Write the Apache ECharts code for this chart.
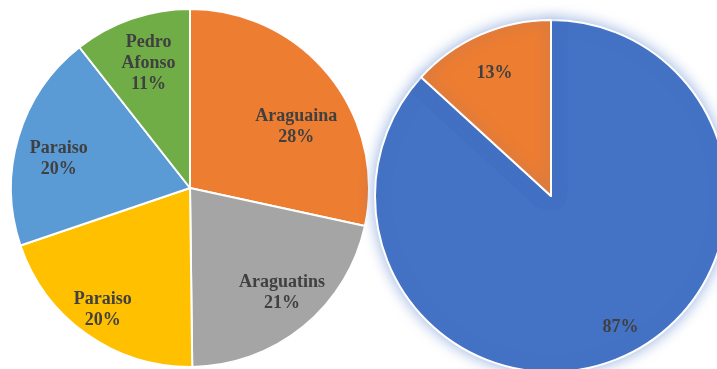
<!DOCTYPE html>
<html><head><meta charset="utf-8">
<script src="https://cdn.jsdelivr.net/npm/echarts@6/dist/echarts.min.js"></script>
<style>html,body{margin:0;padding:0;background:#fff}#c{width:717px;height:369px}</style>
</head><body><div id="c"></div>
<script>
const leftCategories = ['Araguaina', 'Araguatins', 'Paraiso', 'Paraiso', 'Pedro Afonso'];
const leftValues = [28.4, 21.4, 20.0, 19.6, 10.6];
const leftColors = ['#ED7D31', '#A5A5A5', '#FFC000', '#5B9BD5', '#70AD47'];
const leftLabels = ['Araguaina', 'Araguatins', 'Paraiso', 'Paraiso', 'Pedro\nAfonso'];
const rightCategories = ['A', 'B'];
const rightValues = [86.8, 13.2];
const rightColors = ['#4472C4', '#ED7D31'];

const labelStyle = {fontFamily: 'Liberation Serif', fontWeight: 'bold', fontSize: 18, color: '#404040', lineHeight: 21};
// manual label nudges (as in the source chart)
const leftNudge = [[-2, 26], [4, -3], [-7, 8], [2, 10], [4, 7]];
const rightNudge = [[11, -2], [2, 11]];

const leftData = leftCategories.map((c, i) => ({name: c, value: leftValues[i], itemStyle: {color: leftColors[i]}}));
const leftLabelData = leftCategories.map((c, i) => ({name: c, value: leftValues[i], lbl: leftLabels[i], label: {offset: leftNudge[i]}}));
const rightData = rightCategories.map((c, i) => ({name: c, value: rightValues[i], itemStyle: {color: rightColors[i]}}));
const rightLabelData = rightCategories.map((c, i) => ({name: c, value: rightValues[i], label: {offset: rightNudge[i]}}));

const chart = echarts.init(document.getElementById('c'));
chart.setOption({
  animation: false,
  series: [
    {type: 'pie', center: [190, 188], radius: [0, 179], startAngle: 90, clockwise: true,
     data: leftData, label: {show: false}, labelLine: {show: false},
     itemStyle: {borderColor: '#fff', borderWidth: 2}, silent: true},
    {type: 'pie', center: [190, 188], radius: [92, 180], startAngle: 90, clockwise: true,
     data: leftLabelData, itemStyle: {color: 'rgba(0,0,0,0)'}, silent: true,
     label: Object.assign({show: true, position: 'inside', formatter: p => p.data.lbl + '\n' + Math.round(p.percent) + '%'}, labelStyle),
     labelLine: {show: false}},
    {type: 'pie', center: [551, 196], radius: [0, 176], startAngle: 90, clockwise: true,
     data: rightData, label: {show: false}, labelLine: {show: false},
     itemStyle: {borderColor: '#fff', borderWidth: 2, shadowBlur: 14, shadowColor: 'rgba(68,114,196,0.55)'}, silent: true},
    {type: 'pie', center: [551, 196], radius: [100, 185], startAngle: 90, clockwise: true,
     data: rightLabelData,
     itemStyle: {color: 'rgba(0,0,0,0)'}, silent: true,
     label: Object.assign({show: true, position: 'inside', formatter: p => Math.round(p.percent) + '%'}, labelStyle),
     labelLine: {show: false}}
  ]
});
</script></body></html>
